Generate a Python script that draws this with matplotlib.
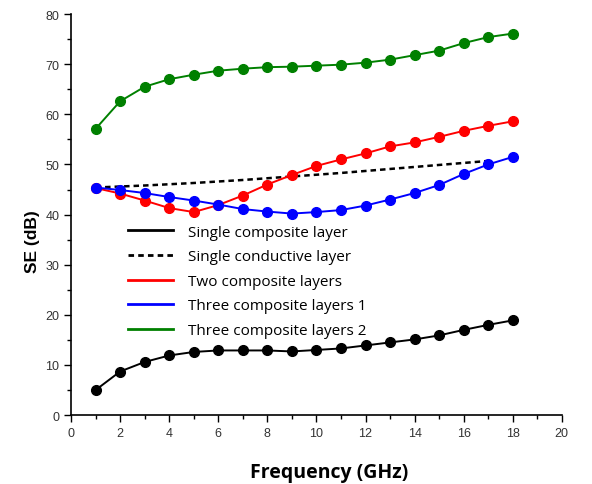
import matplotlib.pyplot as plt
from matplotlib.ticker import MultipleLocator

# frequency points (GHz)
freq = [1, 2, 3, 4, 5, 6, 7, 8, 9, 10, 11, 12, 13, 14, 15, 16, 17, 18]

single_composite = [5.0, 8.7, 10.6, 11.9, 12.6, 12.9, 12.9, 12.9, 12.7, 13.0,
                    13.3, 13.9, 14.5, 15.1, 15.9, 17.0, 18.0, 18.9]
two_composite = [45.3, 44.2, 42.8, 41.3, 40.5, 41.9, 43.8, 46.0, 47.9, 49.7,
                 51.0, 52.2, 53.6, 54.4, 55.5, 56.7, 57.7, 58.6]
three_composite_1 = [45.4, 44.9, 44.3, 43.5, 42.8, 42.0, 41.1, 40.6, 40.2, 40.5,
                     40.9, 41.8, 43.0, 44.3, 45.9, 48.1, 50.0, 51.5]
three_composite_2 = [57.1, 62.6, 65.5, 67.0, 67.9, 68.7, 69.1, 69.4, 69.5, 69.7,
                     69.9, 70.3, 70.9, 71.8, 72.7, 74.2, 75.4, 76.1]

# dashed reference line (no markers)
cond_freq = [1, 3, 5, 7, 9, 11, 13, 15, 17]
single_conductive = [45.4, 45.8, 46.3, 46.9, 47.6, 48.3, 49.1, 49.9, 50.7]

fig = plt.figure(figsize=(5.92, 4.85), dpi=100)
ax = fig.add_axes([0.12, 0.142, 0.829, 0.827])

ax.plot(freq, single_composite, 'o-', color='black', lw=1.4, ms=7)
ax.plot(cond_freq, single_conductive, color='black', lw=1.8, dashes=(2.2, 1.6))
ax.plot(freq, two_composite, 'o-', color='#ff0000', lw=1.4, ms=7)
ax.plot(freq, three_composite_1, 'o-', color='#0000ff', lw=1.4, ms=7)
ax.plot(freq, three_composite_2, 'o-', color='#008000', lw=1.4, ms=7)

ax.set_xlim(0, 20)
ax.set_ylim(0, 80)
ax.xaxis.set_major_locator(MultipleLocator(2))
ax.xaxis.set_minor_locator(MultipleLocator(1))
ax.yaxis.set_major_locator(MultipleLocator(10))
ax.yaxis.set_minor_locator(MultipleLocator(5))
ax.tick_params(which='major', direction='out', length=5, width=1, labelsize=9)
ax.tick_params(which='minor', direction='out', length=3, width=1)
for lab in ax.get_xticklabels() + ax.get_yticklabels():
    lab.set_fontfamily('Liberation Sans')
    lab.set_color('#333333')

for s in ['top', 'right']:
    ax.spines[s].set_visible(False)
for s in ['left', 'bottom']:
    ax.spines[s].set_linewidth(1.2)

ax.set_ylabel('SE (dB)', fontsize=12.5, fontweight='bold', family='Liberation Sans')
ax.yaxis.set_label_coords(-0.064, 0.434)
fig.text(0.556, 0.014, 'Frequency (GHz)', fontsize=14, fontweight='bold',
         family='Open Sans', ha='center', va='baseline')

# legend: lines only
labels = ['Single composite layer', 'Single conductive layer', 'Two composite layers',
          'Three composite layers 1', 'Three composite layers 2']
handles = [plt.Line2D([], [], color='black', lw=2),
           plt.Line2D([], [], color='black', lw=2, dashes=(2, 1.5)),
           plt.Line2D([], [], color='#ff0000', lw=2),
           plt.Line2D([], [], color='#0000ff', lw=2),
           plt.Line2D([], [], color='#008000', lw=2)]
ax.legend(handles, labels, loc='upper left', bbox_to_anchor=(0.116, 0.475),
          frameon=False, prop={'family': 'Open Sans', 'size': 11},
          borderpad=0, borderaxespad=0,
          handlelength=2.95, handletextpad=0.95, labelspacing=0.63)

fig.savefig('out.png', dpi=100)
